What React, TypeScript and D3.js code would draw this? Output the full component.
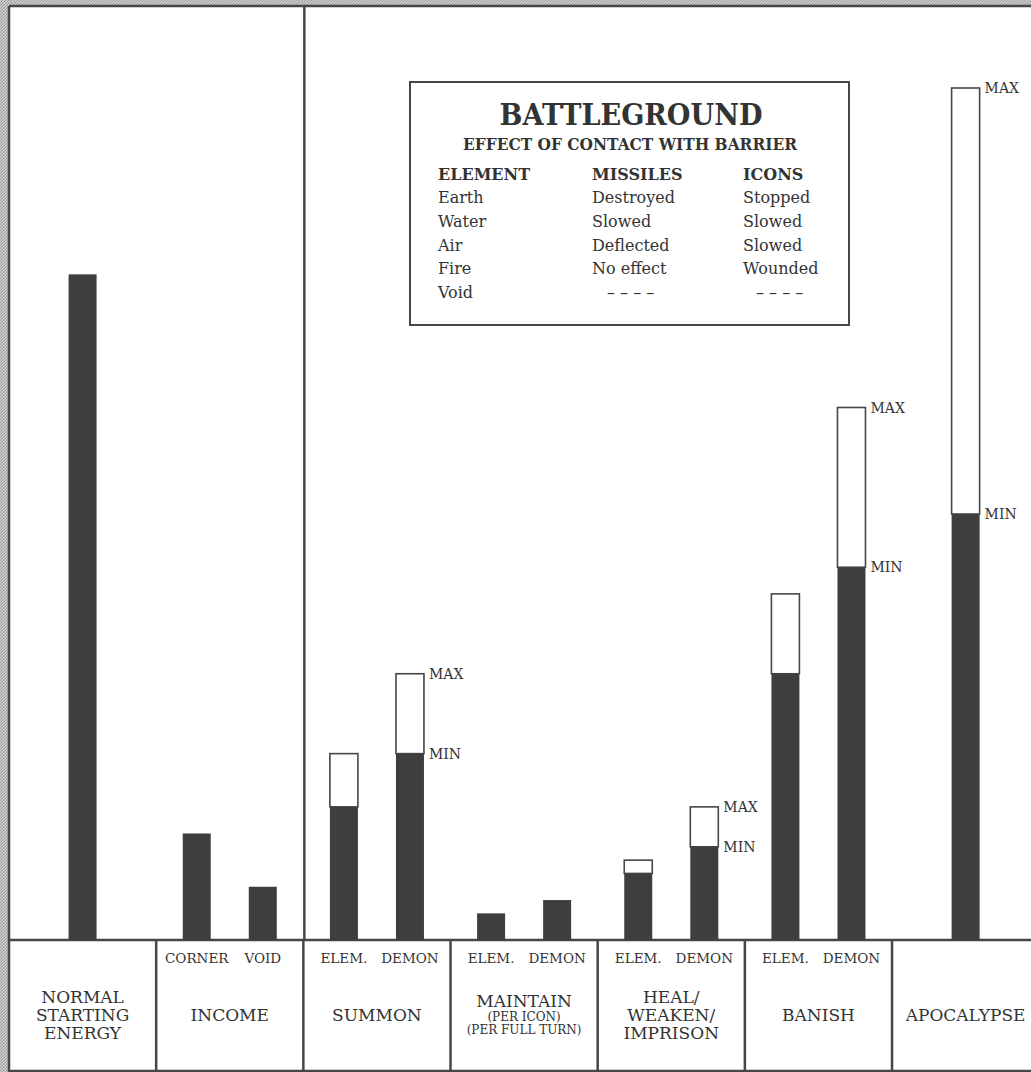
import React, { useRef, useEffect } from 'react';
import * as d3 from 'd3';

// categories across the bottom
const categories = ['normal', 'income', 'summon', 'maintain', 'heal', 'banish', 'apocalypse'];
const categoryLines = [
  ['NORMAL', 'STARTING', 'ENERGY'],
  ['INCOME'],
  ['SUMMON'],
  ['MAINTAIN', '(PER ICON)', '(PER FULL TURN)'],
  ['HEAL/', 'WEAKEN/', 'IMPRISON'],
  ['BANISH'],
  ['APOCALYPSE']
];
const subLabels = [[''], ['CORNER', 'VOID'], ['ELEM.', 'DEMON'], ['ELEM.', 'DEMON'], ['ELEM.', 'DEMON'], ['ELEM.', 'DEMON'], ['']];
// energy cost (min) and max, in energy units
const minValues = [[50], [8, 4], [10, 14], [2, 3], [5, 7], [20, 28], [32]];
const maxValues: (number | null)[][] = [[null], [null, null], [14, 20], [null, null], [6, 10], [26, 40], [64]];
// which bars carry MIN / MAX labels
const labelled = [[false], [false, false], [false, true], [false, false], [false, true], [false, true], [true]];

// legend table
const legendTitle = 'BATTLEGROUND';
const legendSubtitle = 'EFFECT OF CONTACT WITH BARRIER';
const legendHeaders = ['ELEMENT', 'MISSILES', 'ICONS'];
const legendElements = ['Earth', 'Water', 'Air', 'Fire', 'Void'];
const legendMissiles = ['Destroyed', 'Slowed', 'Deflected', 'No effect', '– – – –'];
const legendIcons = ['Stopped', 'Slowed', 'Slowed', 'Wounded', '– – – –'];

export default function App(): JSX.Element {
  const svgRef = useRef<SVGSVGElement>(null);
  useEffect(() => {
    const el = svgRef.current;
    if (el == null) return;
    const W = 1031;
    const H = 1072;
    const svg = d3.select(el);
    svg.selectAll('*').remove();

    const lineColor = '#464646';
    const barColor = '#3e3e3e';
    const textColor = '#333333';
    const font = "'DejaVu Serif', serif";

    const frameLeft = 9;
    const frameTop = 6;
    const baseY = 940;
    const bottomY = 1071;

    // hatched gray background
    const defs = svg.append('defs');
    const pat = defs
      .append('pattern')
      .attr('id', 'hatch')
      .attr('width', 3)
      .attr('height', 3)
      .attr('patternUnits', 'userSpaceOnUse');
    pat.append('rect').attr('width', 3).attr('height', 3).attr('fill', '#c9c9c9');
    pat.append('path').attr('d', 'M0,3 L3,0').attr('stroke', '#9c9c9c').attr('stroke-width', 1);
    svg.append('rect').attr('width', W).attr('height', H).attr('fill', 'url(#hatch)');
    svg
      .append('rect')
      .attr('x', frameLeft)
      .attr('y', frameTop)
      .attr('width', W + 20)
      .attr('height', H)
      .attr('fill', '#ffffff');

    const x = d3.scaleBand().domain(categories).range([frameLeft, 1039.2]);
    const bw = x.bandwidth();
    const y = d3.scaleLinear().domain([0, 64]).range([baseY, 88]);
    const barW = 28;

    // frame lines
    const g = svg.append('g').attr('stroke', lineColor).attr('stroke-width', 2.5);
    g.append('line').attr('x1', frameLeft).attr('x2', frameLeft).attr('y1', frameTop).attr('y2', H);
    g.append('line').attr('x1', frameLeft).attr('x2', W + 5).attr('y1', frameTop).attr('y2', frameTop);
    g.append('line').attr('x1', frameLeft).attr('x2', W + 5).attr('y1', baseY).attr('y2', baseY);
    g.append('line').attr('x1', frameLeft).attr('x2', W + 5).attr('y1', bottomY).attr('y2', bottomY);
    // divider between income and summon runs full height
    const div1 = x('summon') as number;
    g.append('line').attr('x1', div1 + 1).attr('x2', div1 + 1).attr('y1', frameTop).attr('y2', baseY);
    g.selectAll('line.cat')
      .data(categories.slice(1))
      .join('line')
      .attr('class', 'cat')
      .attr('x1', (d) => x(d) as number)
      .attr('x2', (d) => x(d) as number)
      .attr('y1', baseY)
      .attr('y2', H);

    // bars
    categories.forEach((cat, ci) => {
      const subs = subLabels[ci];
      const inner = d3
        .scalePoint()
        .domain(subs.map((_, i) => String(i)))
        .range([0, bw])
        .padding(subs.length > 1 ? 0.614 : 0.5);
      const left = x(cat) as number;
      subs.forEach((sub, si) => {
        const cx = left + (inner(String(si)) as number);
        const minV = minValues[ci][si];
        const maxV = maxValues[ci][si];
        if (maxV != null) {
          svg
            .append('rect')
            .attr('x', cx - barW / 2)
            .attr('y', y(maxV))
            .attr('width', barW)
            .attr('height', y(minV) - y(maxV))
            .attr('fill', '#ffffff')
            .attr('stroke', lineColor)
            .attr('stroke-width', 1.6);
        }
        svg
          .append('rect')
          .attr('x', cx - barW / 2)
          .attr('y', y(minV))
          .attr('width', barW)
          .attr('height', baseY - y(minV))
          .attr('fill', barColor);
        if (labelled[ci][si]) {
          const tags: [string, number][] = [['MIN', minV]];
          if (maxV != null) tags.push(['MAX', maxV]);
          tags.forEach(([t, v]) => {
            svg
              .append('text')
              .attr('x', cx + barW / 2 + 5)
              .attr('y', y(v) + 5)
              .attr('font-family', font)
              .attr('font-size', 14)
              .attr('fill', textColor)
              .text(t);
          });
        }
        if (sub) {
          svg
            .append('text')
            .attr('x', cx)
            .attr('y', 963)
            .attr('text-anchor', 'middle')
            .attr('font-family', font)
            .attr('font-size', 13.5)
            .attr('fill', textColor)
            .text(sub);
        }
      });

      // category label
      const lines = categoryLines[ci];
      const mid = left + bw / 2;
      let ys: number[];
      let sizes: number[];
      if (cat === 'maintain') {
        ys = [1007, 1021, 1034];
        sizes = [17, 12, 12];
      } else if (lines.length === 3) {
        ys = [1003, 1021, 1039];
        sizes = [17, 17, 17];
      } else {
        ys = [1021];
        sizes = [17];
      }
      lines.forEach((ln, li) => {
        svg
          .append('text')
          .attr('x', mid)
          .attr('y', ys[li])
          .attr('text-anchor', 'middle')
          .attr('font-family', font)
          .attr('font-size', sizes[li])
          .attr('fill', textColor)
          .text(ln);
      });
    });

    // legend box
    const lg = svg.append('g');
    lg.append('rect')
      .attr('x', 410)
      .attr('y', 82)
      .attr('width', 439)
      .attr('height', 243)
      .attr('fill', '#ffffff')
      .attr('stroke', lineColor)
      .attr('stroke-width', 2);
    lg.append('text')
      .attr('x', 631)
      .attr('y', 125)
      .attr('text-anchor', 'middle')
      .attr('font-family', font)
      .attr('font-weight', 'bold')
      .attr('font-size', 30)
      .attr('textLength', 263)
      .attr('lengthAdjust', 'spacingAndGlyphs')
      .attr('fill', textColor)
      .text(legendTitle);
    lg.append('text')
      .attr('x', 630)
      .attr('y', 150)
      .attr('text-anchor', 'middle')
      .attr('font-family', font)
      .attr('font-weight', 'bold')
      .attr('font-size', 16)
      .attr('textLength', 334)
      .attr('lengthAdjust', 'spacingAndGlyphs')
      .attr('fill', textColor)
      .text(legendSubtitle);
    const colX = [438, 592, 743];
    legendHeaders.forEach((h, i) => {
      lg.append('text')
        .attr('x', colX[i])
        .attr('y', 180)
        .attr('font-family', font)
        .attr('font-weight', 'bold')
        .attr('font-size', 16)
        .attr('fill', textColor)
        .text(h);
    });
    const rowY = d3.scaleLinear().domain([0, 4]).range([203, 298]);
    [legendElements, legendMissiles, legendIcons].forEach((col, i) => {
      col.forEach((t, r) => {
        const dash = t.startsWith('–');
        lg.append('text')
          .attr('x', dash ? colX[i] + (i === 1 ? 15 : 13) : colX[i])
          .attr('y', rowY(r))
          .attr('font-family', font)
          .attr('font-size', 16)
          .attr('fill', textColor)
          .text(t);
      });
    });
  }, []);
  return (
    <div style={{ position: 'absolute', left: 0, top: 0 }}>
      <svg ref={svgRef} width={1031} height={1072} style={{ display: 'block' }} />
    </div>
  );
}
